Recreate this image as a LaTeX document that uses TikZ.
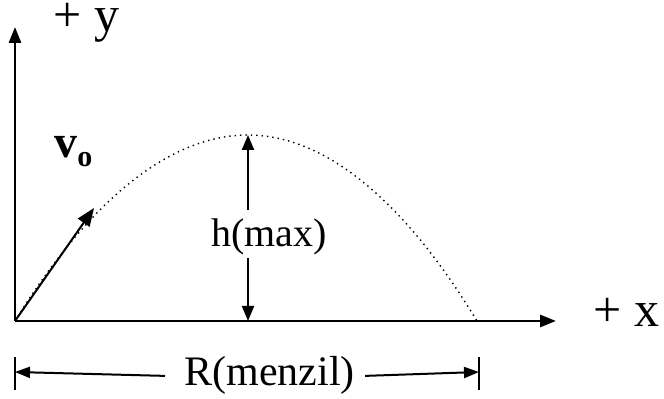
\documentclass[tikz,border=0pt]{standalone}
\usepackage{fontspec}
\setmainfont{Liberation Serif}
\usetikzlibrary{arrows.meta, positioning}
\tikzset{
  axisline/.style={-{Triangle[length=8pt,width=6pt]}, line width=1.4pt, color=black},
  vecarrow/.style={-{Triangle[length=7.5pt,width=6pt]}, line width=1pt, color=black},
  patharc/.style={dotted, line width=0.7pt, color=black},
  dimarrow/.style={-{Triangle[length=7.5pt,width=5.5pt]}, line width=1pt, color=black},
  dimbar/.style={line width=0.9pt, color=black},
  axislabel/.style={anchor=base west, inner sep=0pt, font=\fontsize{20}{24}\selectfont},
}
\begin{document}
\begin{tikzpicture}[x=0.5pt,y=0.5pt]
      \useasboundingbox (0,0) rectangle (664,399);
      % axes
      \coordinate (o)  at (15,78);
      \coordinate (yt) at (15,372);
      \coordinate (xt) at (556,78);
      \draw[axisline](o)--(yt);
      \draw[axisline](o)--(xt);
      \node[axislabel, font=\fontsize{25}{28}\selectfont, text height=0.5em](ylab)at(53,367) {+ y};
      \node[axislabel, font=\fontsize{25}{28}\selectfont](xlab)at(593,72) {+ x};
      % trajectory
      \coordinate (apex) at (248,264);
      \coordinate (land) at (477,78);
      \draw[patharc](o) parabola bend (apex) (land);
      % initial velocity
      \coordinate (vt) at (94,191);
      \draw[vecarrow, -{Triangle[length=9pt,width=7pt]}](o)--(vt);
      \node[axislabel, font=\fontsize{23}{26}\selectfont\bfseries](vlab)at(54,241)
        {v\raisebox{-4.5pt}{\fontsize{15}{15}\selectfont o}};
      % maximum height
      \coordinate (hbase) at (248,78);
      \node[axislabel](hlab)at(211,152) {h(max)};
      \coordinate (hup) at (248,189);
      \coordinate (hdn) at (248,141);
      \draw[vecarrow](hup)--(apex);
      \draw[vecarrow](hdn)--(hbase);
      % range
      \coordinate (rl) at (15,27);
      \coordinate (rr) at (479,27);
      \draw[dimbar](15,42)--(15,9);
      \draw[dimbar](479,42)--(479,9);
      \node[axislabel, font=\fontsize{21}{24}\selectfont](rlab)at(184,13) {R(menzil)};
      \draw[dimarrow]([xshift=-9.5pt]rlab.west)--(rl);
      \draw[dimarrow]([xshift=5pt]rlab.east)--(rr);
    \end{tikzpicture}
\end{document}
